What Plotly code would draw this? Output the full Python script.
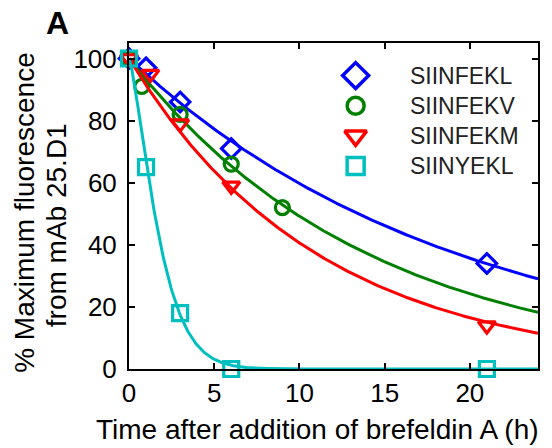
import numpy as np
import plotly.graph_objects as go

# Measured surface levels after brefeldin A addition
series_names = ["SIINFEKL", "SIINFEKV", "SIINFEKM", "SIINYEKL"]
time_l = [0, 1, 3, 6, 21]
value_l = [100, 97, 86, 71, 34]
time_v = [0, 0.75, 3, 6, 9]
value_v = [100, 91, 82, 66, 52]
time_m = [0, 1.25, 3, 6, 21]
value_m = [100, 95, 79, 59, 14]
time_y = [0, 1, 3, 6, 21]
value_y = [100, 65, 18, 0, 0]

# Decay fits: 100 * exp(-(t / tau) ** beta)
fit_tau = [19.4, 14.1, 11.1, 1.98]
fit_beta = [1.0, 1.0, 1.0, 1.34]

colors = ["#0000FF", "#008000", "#FF0000", "#00BFBF"]
symbols = ["diamond-open", "circle-open", "triangle-down-open", "square-open"]
marker_sizes = [15, 14, 15, 15]
legend_sizes = [20, 17, 19, 17]

x_ticks = [0, 5, 10, 15, 20]
y_ticks = [0, 20, 40, 60, 80, 100]

times = [time_l, time_v, time_m, time_y]
values = [value_l, value_v, value_m, value_y]

FONT = "Liberation Sans, Arial, sans-serif"

fig = go.Figure()
t_grid = np.linspace(0, 24, 400)
for name, t, v, tau, beta, c, sym, ms in zip(series_names, times, values, fit_tau,
                                             fit_beta, colors, symbols, marker_sizes):
    fig.add_trace(go.Scatter(
        x=t_grid, y=100 * np.exp(-(t_grid / tau) ** beta), mode="lines",
        line=dict(color=c, width=3), showlegend=False, hoverinfo="skip"))
    fig.add_trace(go.Scatter(
        x=t, y=v, mode="markers", name=name, showlegend=False, cliponaxis=False,
        marker=dict(symbol=sym, size=ms, color=c, line=dict(color=c, width=3.2))))

# Legend block drawn inside the axes
leg_x, leg_text_x, leg_y0, leg_dy = 13.3, 16.4, 94.5, 9.7
for i, (name, c, sym, ls) in enumerate(zip(series_names, colors, symbols, legend_sizes)):
    y = leg_y0 - i * leg_dy
    fig.add_trace(go.Scatter(
        x=[leg_x], y=[y], mode="markers", showlegend=False, hoverinfo="skip",
        marker=dict(symbol=sym, size=ls, color=c, line=dict(color=c, width=3.5))))
    fig.add_annotation(x=leg_text_x, y=y, xref="x", yref="y", text=name,
                       showarrow=False, xanchor="left", yanchor="middle",
                       font=dict(family=FONT, size=23, color="#222222"))

axis_common = dict(showline=True, linecolor="black", linewidth=2, mirror="ticks",
                   ticks="inside", ticklen=6, tickwidth=2, tickcolor="black",
                   showgrid=False, zeroline=False,
                   tickfont=dict(family=FONT, size=26, color="black"))
fig.update_xaxes(range=[0, 24], tickvals=x_ticks, ticklabelstandoff=0, **axis_common)
fig.update_yaxes(range=[0, 105], tickvals=y_ticks, ticklabelstandoff=5, **axis_common)

# Axis titles and panel letter
fig.add_annotation(x=0.462, y=-0.187, xref="paper", yref="paper",
                   text="Time after addition of brefeldin A (h)", showarrow=False,
                   xanchor="center", yanchor="middle",
                   font=dict(family=FONT, size=28, color="black"))
fig.add_annotation(x=-0.256, y=0.48, xref="paper", yref="paper",
                   text="% Maximum fluorescence", showarrow=False, textangle=-90,
                   xanchor="center", yanchor="middle",
                   font=dict(family=FONT, size=28, color="black"))
fig.add_annotation(x=-0.177, y=0.44, xref="paper", yref="paper",
                   text="from mAb 25.D1", showarrow=False, textangle=-90,
                   xanchor="center", yanchor="middle",
                   font=dict(family=FONT, size=28, color="black"))
fig.add_annotation(x=-0.176, y=1.06, xref="paper", yref="paper",
                   text="<b>A</b>", showarrow=False,
                   xanchor="center", yanchor="middle",
                   font=dict(family=FONT, size=32, color="black"))

fig.update_layout(width=552, height=448, margin=dict(l=129, r=14, t=43, b=79),
                  plot_bgcolor="white", paper_bgcolor="white", showlegend=False)

fig.write_html("out.html")
